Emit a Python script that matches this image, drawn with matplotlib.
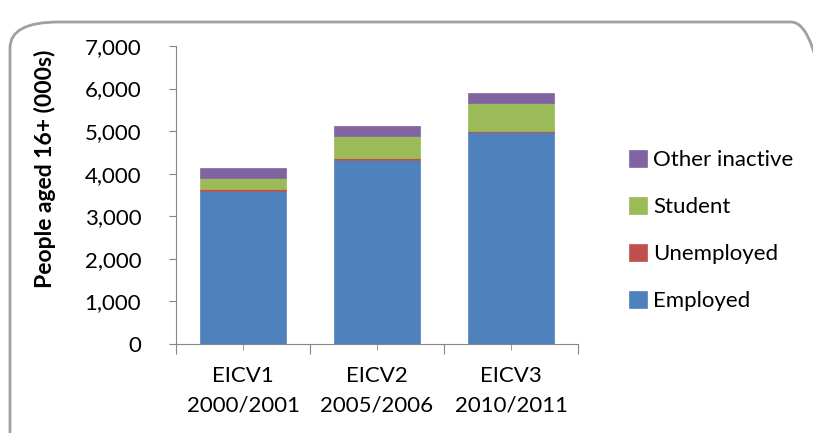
import numpy as np
import matplotlib
matplotlib.use("Agg")
import matplotlib.pyplot as plt
from matplotlib.patches import FancyBboxPatch

plt.rcParams["font.family"] = ["Lato", "DejaVu Sans"]

surveys = ["EICV1\n2000/2001", "EICV2\n2005/2006", "EICV3\n2010/2011"]
employed = [3590, 4315, 4980]
unemployed = [60, 62, 30]
student = [242, 509, 658]
other_inactive = [242, 242, 220]

series = [
    ("Employed", employed, "#4F81BD"),
    ("Unemployed", unemployed, "#C0504D"),
    ("Student", student, "#9BBB59"),
    ("Other inactive", other_inactive, "#8064A2"),
]

W, H = 813, 433
fig = plt.figure(figsize=(W / 100, H / 100), dpi=100)
ax = fig.add_axes([176 / W, 1 - 344 / H, (578 - 176) / W, (344 - 46) / H])

x = np.arange(len(surveys))
bottom = np.zeros(len(surveys))
handles = []
for name, vals, col in series:
    b = ax.bar(x, vals, width=0.645, bottom=bottom, color=col, label=name,
               edgecolor=col, linewidth=0.5)
    handles.append(b)
    bottom += np.array(vals)

ax.set_xlim(-0.5, len(surveys) - 0.5)
ax.set_ylim(0, 7000)
ax.set_yticks(range(0, 7001, 1000))
ax.set_yticklabels([f"{v:,}" for v in range(0, 7001, 1000)])

# category ticks: long ones at boundaries, short ones at centres
ax.set_xticks(np.arange(-0.5, len(surveys), 1.0))
ax.set_xticklabels([])
ax.set_xticks(x, minor=True)
ax.set_xticklabels(surveys, minor=True, fontsize=16, linespacing=1.55)
ax.tick_params(axis="x", which="major", length=7, color="#868686")
ax.tick_params(axis="x", which="minor", length=4, color="#868686", pad=12)
ax.tick_params(axis="y", length=5, color="#868686", pad=20, labelsize=16)

for s in ["top", "right"]:
    ax.spines[s].set_visible(False)
for s in ["left", "bottom"]:
    ax.spines[s].set_color("#868686")

fig.text(45 / W, 1 - 169 / H, "People aged 16+ (000s)", rotation=90,
         ha="center", va="center", fontsize=16.5, fontweight="bold")

leg = ax.legend(handles[::-1], [s[0] for s in series][::-1],
                loc="upper left", bbox_to_anchor=(620 / W, 1 - 141 / H),
                bbox_transform=fig.transFigure, frameon=False, fontsize=16,
                handlelength=0.8, handleheight=0.8, handletextpad=0.3,
                labelspacing=1.2, borderaxespad=0)

border = FancyBboxPatch((10 / W, 1 - 460 / H), 830 / W, (460 - 22) / H,
                        boxstyle="round,pad=0,rounding_size=0.06",
                        transform=fig.transFigure, facecolor="none",
                        edgecolor="#a0a0a0", linewidth=2, clip_on=False)
fig.patches.append(border)

fig.savefig("out.png", dpi=100)
